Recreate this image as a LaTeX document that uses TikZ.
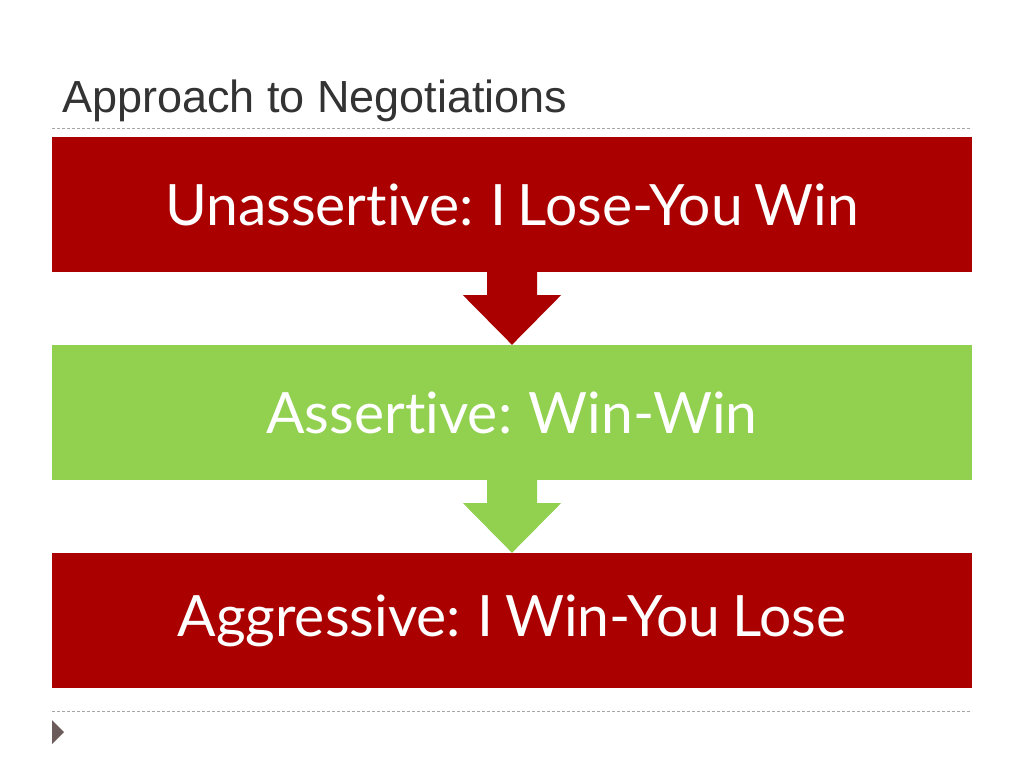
\documentclass[tikz,border=0pt]{standalone}
\usepackage{fontspec}
\setmainfont[Ligatures=NoCommon,WordSpace=0.8]{Lato}
\newfontfamily\titlefont{Liberation Sans}
\usetikzlibrary{calc}
\definecolor{boxred}{HTML}{AA0000}
\definecolor{boxgreen}{HTML}{92D050}
\definecolor{bullet}{HTML}{6B5B5B}
\definecolor{titlegray}{HTML}{333333}

\begin{document}
\begin{tikzpicture} [
  x=1bp, y=-1bp,
  stage/.style={rectangle,minimum width=920bp,minimum height=135bp,inner sep=0,
    text=white,font=\fontsize{57bp}{64bp}\selectfont},
  rule/.style={draw=gray!70,dashed,line width=0.6bp,dash pattern=on 3bp off 2bp}
  ]
  \useasboundingbox [fill=white] (0,0) rectangle (1024,768);
  % title and rules
  \node (title) [anchor=base west,text=titlegray,inner sep=0,
    font=\titlefont\fontsize{45bp}{52bp}\selectfont] at (62,112) {Approach to Negotiations};
  \coordinate (r1a) at (52,128);
  \coordinate (r1b) at (972,128);
  \coordinate (r2a) at (52,711);
  \coordinate (r2b) at (972,711);
  \draw [rule] (r1a) -- (r1b);
  \draw [rule] (r2a) -- (r2b);
  \fill [bullet] (52,720) -- (64,732) -- (52,744) -- cycle;
  % stages
  \node (lose) [stage,fill=boxred] at (512,204.5) {Unassertive: I Lose-You Win};
  \node (winwin) [stage,fill=boxgreen] at (512,412.5) {Assertive: Win-Win};
  \node (aggr) [stage,fill=boxred] at (512,620.5) {Aggressive: I Win-You Lose};
  % block arrows
  \fill [boxred] ($(lose.south)+(-25,0)$) -- ++(0,23) -- ++(-24,0) -- (winwin.north)
    -- ($(lose.south)+(49,23)$) -- ++(-24,0) -- ++(0,-23) -- cycle;
  \fill [boxgreen] ($(winwin.south)+(-25,0)$) -- ++(0,23) -- ++(-24,0) -- (aggr.north)
    -- ($(winwin.south)+(49,23)$) -- ++(-24,0) -- ++(0,-23) -- cycle;
\end{tikzpicture}
\end{document}
